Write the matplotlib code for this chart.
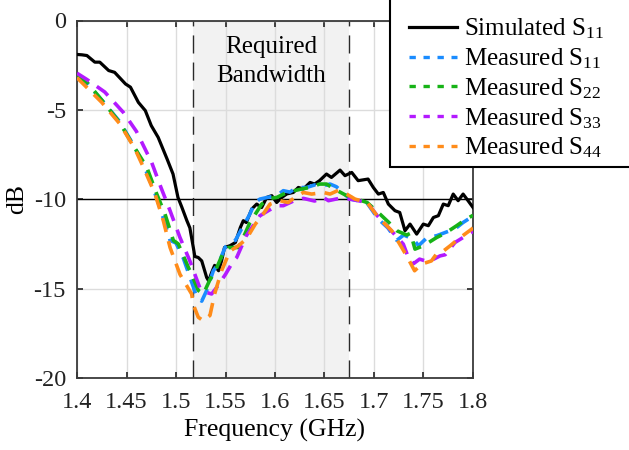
import matplotlib
matplotlib.use("Agg")
import matplotlib.pyplot as plt
from matplotlib.lines import Line2D
from matplotlib.patches import Rectangle

plt.rcParams['font.family'] = ['Liberation Serif', 'DejaVu Serif']
plt.rcParams['mathtext.fontset'] = 'custom'
plt.rcParams['mathtext.rm'] = 'Liberation Serif'
plt.rcParams['mathtext.it'] = 'Liberation Serif:italic'

# ---------------- data ----------------
sim_f = [1.400, 1.405, 1.410, 1.418, 1.423, 1.432, 1.438, 1.449, 1.454, 1.462, 1.469, 1.475,
         1.482, 1.491, 1.497, 1.502, 1.506, 1.511, 1.514, 1.5175, 1.519, 1.5225, 1.526, 1.531,
         1.533, 1.536, 1.539, 1.543, 1.546, 1.549, 1.5545, 1.560, 1.565, 1.568, 1.571, 1.5765,
         1.5815, 1.5865, 1.5916, 1.5967, 1.6017, 1.6068, 1.612, 1.6185, 1.6236, 1.6286, 1.6354,
         1.640, 1.645, 1.652, 1.657, 1.6657, 1.6707, 1.6775, 1.684, 1.694, 1.6993, 1.7044,
         1.7094, 1.7145, 1.7212, 1.726, 1.7313, 1.7364, 1.7431, 1.7498, 1.7549, 1.760, 1.765,
         1.770, 1.775, 1.780, 1.785, 1.790, 1.795, 1.800]
sim_db = [-1.90, -1.92, -1.96, -2.33, -2.33, -2.80, -2.90, -3.55, -3.73, -4.58, -5.04, -5.88,
          -6.54, -7.75, -8.59, -9.90, -10.46, -11.2, -11.6, -12.7, -13.2, -13.26, -13.45, -14.38,
          -14.57, -14.1, -13.7, -14.0, -13.45, -12.7, -12.6, -12.42, -11.58, -11.2, -11.3, -10.55,
          -10.27, -10.46, -9.9, -9.8, -10.18, -9.9, -9.7, -9.62, -9.34, -9.43, -9.06,
          -9.15, -8.96, -8.59, -8.78, -8.37, -8.68, -8.5, -8.96, -8.87, -9.34, -9.71,
          -9.62, -10.27, -10.64, -10.74, -11.76, -11.39, -11.95, -11.39, -11.48, -11.02, -10.92,
          -10.27, -10.36, -9.71, -10.08, -9.71, -10.08, -10.46]

s11_f = [1.400, 1.410, 1.425, 1.443, 1.458, 1.470, 1.480, 1.488, 1.494, 1.500, 1.5074, 1.5175,
         1.521, 1.526, 1.531, 1.5377, 1.543, 1.5495, 1.5545, 1.560, 1.568, 1.574, 1.5798, 1.5848,
         1.592, 1.6017, 1.6084, 1.615, 1.622, 1.632, 1.640, 1.6495, 1.6556, 1.662, 1.6758, 1.6926,
         1.7044, 1.714, 1.723, 1.730, 1.7397, 1.745, 1.7535, 1.7633, 1.770, 1.782, 1.790, 1.797, 1.800]
s11_db = [-3.10, -3.50, -4.45, -5.65, -7.05, -8.45, -9.85, -11.2, -12.3, -12.45, -13.3, -14.9,
          -15.5, -15.7, -15.1, -14.0, -13.6, -12.7, -12.4, -12.3, -11.48, -10.9, -10.18, -9.99,
          -9.9, -9.8, -9.52, -9.6, -9.35, -9.34, -9.2, -9.24, -9.15, -9.3, -9.99, -10.18,
          -11.11, -11.6, -12.3, -12.0, -12.23, -12.6, -12.15, -12.04, -11.9, -11.65, -11.3, -11.05, -11.0]

s22_f = [1.400, 1.410, 1.425, 1.443, 1.458, 1.4704, 1.4805, 1.4889, 1.4973, 1.5023, 1.5124, 1.5158,
         1.5225, 1.5276, 1.5343, 1.539, 1.5478, 1.553, 1.563, 1.568, 1.5747, 1.5866, 1.595, 1.6017,
         1.612, 1.625, 1.635, 1.645, 1.652, 1.6623, 1.6724, 1.680, 1.693, 1.706, 1.715, 1.723,
         1.733, 1.737, 1.7414, 1.750, 1.7633, 1.772, 1.7835, 1.792, 1.800]
s22_db = [-3.05, -3.45, -4.45, -5.7, -7.1, -8.2, -9.7, -10.83, -12.3, -12.5, -13.8, -14.2,
          -15.1, -15.3, -14.5, -14.1, -12.98, -12.7, -12.7, -12.14, -11.3, -10.27, -9.95, -9.9,
          -9.62, -9.45, -9.34, -9.15, -9.15, -9.5, -9.8, -9.95, -10.18, -10.83, -11.3, -11.76,
          -12.0, -11.9, -12.79, -12.6, -12.14, -11.9, -11.48, -11.15, -10.9]

s33_f = [1.400, 1.410, 1.428, 1.4468, 1.460, 1.4754, 1.4848, 1.494, 1.504, 1.514, 1.524, 1.530,
         1.536, 1.541, 1.550, 1.558, 1.5613, 1.571, 1.5848, 1.6017, 1.6084, 1.6186, 1.6286, 1.640,
         1.6488, 1.654, 1.665, 1.6758, 1.693, 1.703, 1.7145, 1.7296, 1.7347, 1.740, 1.746, 1.755,
         1.7667, 1.772, 1.7818, 1.790, 1.800]
s33_db = [-2.95, -3.3, -4.0, -5.14, -6.2, -7.94, -9.34, -10.64, -12.14, -13.45, -14.94, -15.2,
          -15.3, -14.94, -14.2, -13.45, -13.26, -12.04, -10.92, -10.36, -10.36, -10.1, -9.95, -10.1,
          -9.9, -10.08, -9.95, -9.99, -10.18, -10.9, -11.58, -12.51, -13.26, -13.6, -13.35, -13.5,
          -13.17, -13.1, -12.42, -12.14, -11.8]

s44_f = [1.400, 1.408, 1.425, 1.4434, 1.4586, 1.467, 1.4788, 1.4872, 1.494, 1.504, 1.5158, 1.5175,
         1.5225, 1.5276, 1.5343, 1.539, 1.546, 1.5545, 1.563, 1.571, 1.580, 1.588, 1.595, 1.605,
         1.6134, 1.620, 1.6286, 1.637, 1.6488, 1.6556, 1.664, 1.6724, 1.6808, 1.693, 1.7044,
         1.7179, 1.728, 1.733, 1.741, 1.748, 1.758, 1.763, 1.770, 1.777, 1.785, 1.7987, 1.800]
s44_db = [-3.2, -3.64, -4.58, -5.79, -7.19, -8.2, -9.7, -11.2, -12.7, -14.2, -15.3, -15.9,
          -16.6, -16.8, -16.5, -15.3, -14.0, -12.9, -12.6, -12.23, -11.4, -10.83, -10.27, -10.08,
          -10.18, -9.9, -9.62, -9.71, -9.62, -9.71, -9.5, -9.71, -9.99, -10.18, -11.02,
          -11.76, -12.7, -13.17, -14.0, -13.63, -13.45, -13.07, -12.9, -12.6, -12.23, -11.67, -11.6]

band_lo, band_hi = 1.5175, 1.675
x_ticks = [1.4, 1.45, 1.5, 1.55, 1.6, 1.65, 1.7, 1.75, 1.8]
x_tick_labels = ['1.4', '1.45', '1.5', '1.55', '1.6', '1.65', '1.7', '1.75', '1.8']
y_ticks = [0, -5, -10, -15, -20]
y_tick_labels = ['0', '-5', '-10', '-15', '-20']
labels = ['Simulated S$_{\\mathrm{11}}$', 'Measured S$_{\\mathrm{11}}$', 'Measured S$_{\\mathrm{22}}$',
          'Measured S$_{\\mathrm{33}}$', 'Measured S$_{\\mathrm{44}}$']
colors = ['black', '#1a8cff', '#17b317', '#b31aff', '#ff8c1a']

# ---------------- figure ----------------
W, H = 629, 450
fig = plt.figure(figsize=(W / 100, H / 100), dpi=100)
ax = fig.add_axes([77 / W, 1 - 378 / H, (473 - 77) / W, (378 - 20.5) / H])

ax.axvspan(band_lo, band_hi, color='#f2f2f2', zorder=0.3, lw=0)
ax.set_axisbelow(True)
ax.grid(True, color='#dcdcdc', lw=1.0)
ax.axhline(-10, color='black', lw=1.0, zorder=1)
for xv in (band_lo, band_hi):
    ax.axvline(xv, color='#2a2a2a', lw=1.0, dashes=(13, 6.5), zorder=1)

series = [(sim_f, sim_db), (s11_f, s11_db), (s22_f, s22_db), (s33_f, s33_db), (s44_f, s44_db)]
for i, ((f, d), c) in enumerate(zip(series, colors)):
    if i == 0:
        ax.plot(f, d, color=c, lw=2.3, zorder=3)
    else:
        ax.plot(f, d, color=c, lw=2.6, dashes=(4, 2.6), zorder=3 + i)

ax.text((band_lo + band_hi) / 2, -2.3, 'Required\nBandwidth', ha='center', va='center',
        fontsize=18, linespacing=1.45)

ax.set_xlim(1.4, 1.8)
ax.set_ylim(-20, 0)
ax.set_xticks(x_ticks)
ax.set_xticklabels(x_tick_labels)
ax.set_yticks(y_ticks)
ax.set_yticklabels(y_tick_labels)
ax.tick_params(direction='in', length=4, width=1.2, top=True, right=True,
               labelsize=17.5, colors='#222222')
ax.tick_params(axis='x', pad=10)
ax.tick_params(axis='y', pad=8)
for sp in ax.spines.values():
    sp.set_color('#3a3a3a')
    sp.set_linewidth(1.3)
ax.set_xlabel('Frequency (GHz)', fontsize=18.5, labelpad=4)
ax.set_ylabel('dB', fontsize=18.5, labelpad=4)

# legend box (drawn above the axes, partly outside the figure)
fig.add_artist(Rectangle((389.5 / W, 1 - 167 / H), 300 / W, 170 / H,
                         transform=fig.transFigure, facecolor='white',
                         edgecolor='black', lw=1.5, zorder=5))
handles = []
for i, c in enumerate(colors):
    if i == 0:
        handles.append(Line2D([], [], color=c, lw=2.3))
    else:
        handles.append(Line2D([], [], color=c, lw=2.4, dashes=(1.9, 2.3)))
leg = fig.legend(handles, labels, loc='upper left', bbox_to_anchor=(409 / W, 1 - 16.5 / H),
                 frameon=False, fontsize=18, handlelength=1.9, handletextpad=0.3,
                 borderpad=0, borderaxespad=0, labelspacing=0.21)
leg.set_zorder(6)

fig.savefig('out.png', dpi=100)
